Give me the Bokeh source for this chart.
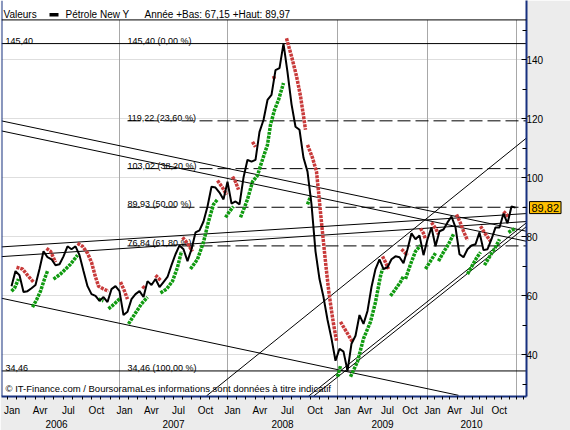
from bokeh.plotting import figure
from bokeh.models import (Range1d, FixedTicker, LinearAxis, Label, Span, BoxAnnotation,
                          CustomJSTickFormatter)
from bokeh.embed import file_html
from bokeh.resources import INLINE
from bokeh.core.properties import value

FONT = "Liberation Sans"
NAVY = "#17307F"
GREEN = "#109A10"
RED = "#C83A3A"

# ---------------- data ----------------
# x = session index of the plotted samples (the time axis is session based, not calendar based)
price = [63.2, 68.3, 66.9, 61.2, 61.5, 62.5, 63.6, 69.0, 75.0, 73.0,
         72.3, 70.3, 70.6, 73.3, 76.7, 75.7, 76.7, 73.7, 68.3, 63.2,
         60.5, 59.9, 58.2, 59.5, 57.8, 62.2, 63.2, 61.5, 53.4, 54.5,
         58.8, 60.5, 61.5, 59.5, 64.9, 63.6, 65.6, 62.9, 64.6, 66.3,
         70.3, 74.0, 77.0, 75.7, 71.7, 75.7, 81.4, 82.1, 85.1, 90.2,
         96.9, 96.6, 94.9, 92.6, 98.6, 91.2, 91.9, 90.9, 100.0, 106.0,
         105.4, 106.0, 115.5, 119.5, 126.3, 128.0, 136.4, 137.1, 145.4, 135.7,
         124.9, 117.2, 116.2, 106.7, 102.0, 90.9, 75.0, 65.6, 59.5, 51.8,
         45.4, 37.9, 42.0, 41.0, 34.5, 43.7, 46.4, 53.4, 50.4, 54.8,
         62.9, 69.0, 72.3, 69.0, 69.6, 72.3, 73.3, 73.0, 71.0, 75.7,
         81.1, 79.1, 80.4, 73.7, 79.1, 83.1, 76.7, 81.8, 82.4, 84.8,
         86.8, 83.1, 74.0, 73.0, 75.7, 77.0, 77.4, 81.4, 75.4, 75.7,
         79.1, 83.1, 83.1, 87.8, 84.5, 90.2, 89.82]
session = list(range(len(price)))

# trailing stop (SAR-like) segments: green under the price, red above it
green_x = [[0, 0.75, 1.75], [5.25, 6.25, 7.25, 8.25, 9], [10.5, 12.25, 14.75, 16.5],
           [21.75, 23], [24.25, 25.75, 27.25], [29.25, 31, 32.5, 34],
           [37.25, 38.75, 40.25, 41.5, 42.5], [44.75, 46.5, 48, 49.25, 50.5, 51.5],
           [53.5, 54.5, 55.5],
           [57.25, 58.25, 59, 60.25, 61.5, 62.25, 63, 64, 64.75, 65.75, 66.75, 68],
           [74, 74.75], [81.5, 82.25], [84.75, 86.5, 88, 89.75, 91, 92.25, 92.75],
           [94.75, 96, 97.25, 98], [98.5, 99.75, 101, 102.25], [103.5, 104.75, 106],
           [106.75, 108, 109.25, 110.5], [114, 115.25, 116.25, 117.25],
           [118.25, 119.75, 121, 122], [124.25, 125, 126]]
green_p = [[61.5, 62.5, 65.6], [56.1, 58.5, 61.5, 65.6, 68.3], [65.6, 67.3, 70.6, 73.7],
           [58.8, 58.2], [55.5, 57.2, 59.2], [50.4, 54.1, 57.2, 59.5],
           [60.9, 62.2, 64.9, 69.6, 75.0], [69.0, 72.3, 78.1, 85.1, 90.9, 92.6],
           [86.5, 88.5, 90.2],
           [86.5, 89.9, 92.6, 98.6, 100.7, 104.0, 107.1, 111.1, 117.9, 122.9, 126.3, 132.0],
           [90.9, 93.6], [32.5, 36.2], [32.5, 37.6, 45.4, 51.1, 57.8, 66.6, 69.0],
           [59.9, 62.2, 64.6, 66.6], [65.6, 70.6, 75.0, 77.0], [69.0, 71.7, 74.4],
           [71.7, 74.7, 77.4, 80.8], [67.3, 70.3, 72.7, 74.7],
           [70.3, 73.7, 76.4, 79.1], [81.4, 82.1, 82.8]]
red_x = [[1.25, 2.75, 4, 5.5], [8.75, 9.75, 11], [16.5, 17.75, 19, 20, 21, 21.75, 23, 24.25],
         [27.25, 28.25, 29], [32.75, 33.25], [36, 37.25], [42.75, 44, 45.25],
         [51.5, 52.75, 53.75], [55.25, 56, 56.75], [60.25, 61], [65.5, 65.75],
         [68.75, 70, 71.25, 72.25, 73, 73.5],
         [74, 75.25, 76.25, 76.75, 77.25, 77.75, 78.25, 78.75, 79.25, 79.75, 80.5, 81.25],
         [82.25, 83.75, 85.25], [92.75, 93.5, 94.25], [97.5, 98.25, 99],
         [102.25, 103, 103.5], [105, 106, 106.75], [111.25, 112.25, 113, 114],
         [117.25, 118.5, 119.75], [123, 123.75, 124.25]]
red_p = [[69.6, 69.0, 66.9, 64.6], [76.0, 75.0, 71.3], [77.7, 76.7, 74.4, 71.3, 66.3, 63.2, 62.2, 61.5],
         [64.6, 61.5, 58.8], [63.2, 62.5], [66.9, 65.2], [79.7, 77.7, 75.0],
         [99.0, 96.6, 94.2], [100.3, 98.6, 95.9], [112.1, 110.4], [134.4, 133.4],
         [147.2, 141.1, 134.4, 127.6, 120.9, 116.2],
         [111.1, 106.7, 102.0, 95.3, 88.2, 81.4, 74.7, 68.3, 62.2, 57.2, 50.4, 44.7],
         [51.1, 47.7, 44.3], [73.3, 71.3, 69.0], [75.7, 74.7, 73.7],
         [82.8, 81.1, 79.1], [84.8, 82.8, 80.8], [87.5, 84.5, 81.8, 78.7],
         [83.5, 80.8, 78.4], [88.5, 87.5, 86.5]]

# drawn trend lines (two anchor points each: session, price)
trend_x0 = [-2.5, -2.5, -2.5, -2.5, -2.5, 48.75, 74.25, 75.5]
trend_p0 = [119.2, 115.8, 76.5, 73.2, 59.1, 26.0, 25.9, 25.9]
trend_x1 = [128.75, 128.75, 128.75, 128.75, 111.75, 128.75, 128.75, 128.75]
trend_p1 = [81.8, 78.4, 87.8, 85.1, 26.2, 113.4, 84.7, 83.4]

# Fibonacci retracement between the high and the low
fib_high, fib_low = 145.40, 34.46
fib_ratios = [0.0, 0.236, 0.382, 0.5, 0.618, 1.0]
fib_start = 29.0

# axis
y_major = [40, 60, 80, 100, 120, 140]
y_minor = [30, 50, 70, 90, 110, 130, 150]
year_labels = ["2006", "2007", "2008", "2009", "2010"]
year_start = [-1.1, 27.0, 54.0, 81.5, 104.0, 126.25]
year_label_at = [11.25, 40.5, 67.75, 92.75, 115.0]
quarter_names = ["Jan", "Avr", "Jul", "Oct"]

header_name = "Pétrole New Y"
header_stats = "Année +Bas: 67,15 +Haut: 89,97"
footer = "© IT-Finance.com / BoursoramaLes informations sont données à titre indicatif"

# ---------------- layout constants ----------------
x_start, x_end = -2.5, 128.75
y_bottom, y_top = 25.8, 160.0
header_line_y = 153.42
header_y = 155.28
TAG_W = 34  # width taken by the price tag panel on the right


def fr(v):
    return f"{v:.2f}".replace(".", ",")


fib_levels = [fib_high - r * (fib_high - fib_low) for r in fib_ratios]
fib_text = [f"{fr(v)} ({fr(r * 100)} %)" for v, r in zip(fib_levels, fib_ratios)]

month_starts = []
for k in range(5):
    s, e = year_start[k], year_start[k + 1]
    for m in range(12):
        month_starts.append(s + m * (e - s) / 12)
month_starts += [year_start[5], year_start[5] + (year_start[5] - year_start[4]) / 12]
month_label_pos, month_label_txt = [], []
for k in range(5):
    s, e = year_start[k], year_start[k + 1]
    for q, name in enumerate(quarter_names):
        month_label_pos.append(s + 3 * q * (e - s) / 12 + 1.25)
        month_label_txt.append(name)

p = figure(width=570, height=430, title=None,
           x_range=Range1d(x_start, x_end), y_range=Range1d(y_bottom, y_top),
           output_backend="svg", toolbar_location=None, y_axis_location="right",
           min_border_left=1, min_border_right=44, min_border_top=0, min_border_bottom=32)
p.background_fill_color = "white"
p.border_fill_color = "#ECECEC"
p.outline_line_color = None

# right axis, part 1: line and inward ticks (no labels)
yax = p.yaxis[0]
yax.ticker = FixedTicker(ticks=y_major, minor_ticks=y_minor)
yax.formatter = CustomJSTickFormatter(code="return ''")
yax.major_tick_in = 5
yax.major_tick_out = 0
yax.minor_tick_in = 4
yax.minor_tick_out = 0
yax.major_tick_line_color = "black"
yax.minor_tick_line_color = "black"
yax.axis_line_color = NAVY
yax.axis_line_width = 2
yax.major_label_standoff = 0

# right axis, part 3: the value labels (pulled back over the tag panel)
ylab = LinearAxis(ticker=FixedTicker(ticks=y_major))
ylab.axis_line_color = None
ylab.major_tick_line_color = None
ylab.minor_tick_line_color = None
ylab.major_tick_in = 0
ylab.major_tick_out = 0
ylab.major_label_text_font = FONT
ylab.major_label_text_font_size = "10px"
ylab.major_label_text_color = "black"
ylab.major_label_standoff = 2 - TAG_W

# last price tag, part 2 (in the side panel so that it is not clipped to the frame)
tag = Label(x=129.5, y=price[-1], text=fr(price[-1]), text_font=FONT, text_font_size="11px",
            text_baseline="middle", text_align="left", text_color="black",
            background_fill_color="#FFC000", border_line_color="black", padding=2)
p.add_layout(tag, "right")
p.add_layout(ylab, "right")

p.ygrid[0].ticker = FixedTicker(ticks=y_major)
p.ygrid[0].grid_line_color = "#DEDEDE"
p.xgrid[0].visible = False

JS = """
let best = 0, bd = 1e9;
for (let k = 0; k < pos.length; k++) { const d = Math.abs(pos[k] - tick); if (d < bd) { bd = d; best = k; } }
return lab[best];
"""
xax = p.xaxis[0]
xax.ticker = FixedTicker(ticks=month_label_pos, minor_ticks=month_starts)
xax.formatter = CustomJSTickFormatter(args=dict(pos=month_label_pos, lab=month_label_txt), code=JS)
xax.major_tick_line_color = None
xax.major_tick_in = 0
xax.major_tick_out = 0
xax.minor_tick_in = 0
xax.minor_tick_out = 3
xax.minor_tick_line_color = "black"
xax.axis_line_color = NAVY
xax.axis_line_width = 2
xax.major_label_text_font = FONT
xax.major_label_text_font_size = "10px"
xax.major_label_text_color = "black"
xax.major_label_standoff = 5

yr = LinearAxis(ticker=FixedTicker(ticks=year_label_at),
                formatter=CustomJSTickFormatter(args=dict(pos=year_label_at, lab=year_labels), code=JS))
yr.axis_line_color = None
yr.major_tick_line_color = None
yr.minor_tick_line_color = None
yr.major_tick_in = 0
yr.major_tick_out = 0
yr.major_label_text_font = FONT
yr.major_label_text_font_size = "10px"
yr.major_label_text_color = "black"
yr.major_label_standoff = 1
p.add_layout(yr, "below")

# left border and header rule
p.add_layout(Span(location=x_start, dimension="height", line_color=NAVY, line_width=2))
p.add_layout(Span(location=header_line_y, dimension="width", line_color="black", line_width=1))

# vertical year grid lines (stop at the header rule)
p.segment(x0=year_start[1:], y0=y_bottom, x1=year_start[1:], y1=header_line_y,
          line_color="#A8A8A8", line_width=1)

# fibonacci lines
p.segment(x0=x_start, y0=[fib_levels[0], fib_levels[-1]], x1=x_end,
          y1=[fib_levels[0], fib_levels[-1]], line_color="black", line_width=1)
p.segment(x0=fib_start, y0=fib_levels[1:-1], x1=x_end, y1=fib_levels[1:-1],
          line_color="black", line_width=1, line_dash="13 5")
p.text(x=[fib_start] * len(fib_levels), y=[v + 1.0 for v in fib_levels], text=fib_text,
       text_font=value(FONT), text_font_size="9px", text_color="black",
       text_baseline="alphabetic", text_align="left")
p.text(x=[-1.5, -1.5], y=[fib_levels[0] + 1.0, fib_levels[-1] + 1.0],
       text=[fr(fib_levels[0]), fr(fib_levels[-1])],
       text_font=value(FONT), text_font_size="9px", text_color="black",
       text_baseline="alphabetic", text_align="left")

# trend lines
p.segment(x0=trend_x0, y0=trend_p0, x1=trend_x1, y1=trend_p1, line_color="black", line_width=1)

# trailing stops
p.multi_line(xs=green_x, ys=green_p, line_color=GREEN, line_width=3.5, line_dash="3 1")
p.multi_line(xs=red_x, ys=red_p, line_color=RED, line_width=3.5, line_dash="3 1")

# price
p.line(session, price, line_color="black", line_width=2)

# header
p.add_layout(Label(x=-2.0, y=header_y, text="Valeurs", text_font=FONT, text_font_size="10px",
                   text_baseline="middle", text_color="black"))
p.add_layout(BoxAnnotation(left=9.5, right=11.75, bottom=154.6, top=155.8,
                           fill_color="black", fill_alpha=1, line_color=None))
p.add_layout(Label(x=13.5, y=header_y, text=header_name, text_font=FONT, text_font_size="10px",
                   text_baseline="middle", text_color="black"))
p.add_layout(Label(x=33.25, y=header_y, text=header_stats, text_font=FONT, text_font_size="10px",
                   text_baseline="middle", text_color="black"))
# footer
p.add_layout(Label(x=-1.5, y=28.5, text=footer, text_font=FONT, text_font_size="9.5px",
                   text_baseline="middle", text_color="black"))

open("out.html", "w").write(file_html(p, INLINE))
